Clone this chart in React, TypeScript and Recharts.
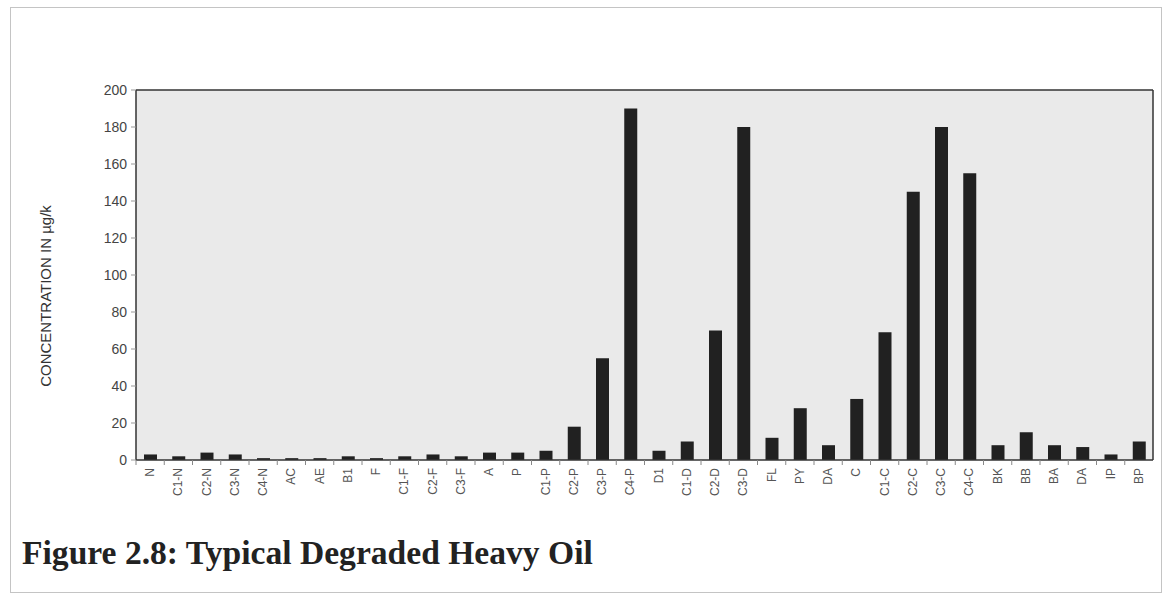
import { BarChart, Bar, XAxis, YAxis, CartesianGrid } from 'recharts';

// Compound labels and concentrations (µg/k).
const compounds = [
  'N', 'C1-N', 'C2-N', 'C3-N', 'C4-N', 'AC', 'AE', 'B1', 'F', 'C1-F', 'C2-F', 'C3-F',
  'A', 'P', 'C1-P', 'C2-P', 'C3-P', 'C4-P', 'D1', 'C1-D', 'C2-D', 'C3-D', 'FL', 'PY',
  'DA', 'C', 'C1-C', 'C2-C', 'C3-C', 'C4-C', 'BK', 'BB', 'BA', 'DA', 'IP', 'BP',
];
const concentrations = [
  3, 2, 4, 3, 1, 1, 1, 2, 1, 2, 3, 2,
  4, 4, 5, 18, 55, 190, 5, 10, 70, 180, 12, 28,
  8, 33, 69, 145, 180, 155, 8, 15, 8, 7, 3, 10,
];
const yTicks = [0, 20, 40, 60, 80, 100, 120, 140, 160, 180, 200];

const data = compounds.map((name, i) => ({ name, value: concentrations[i] }));

const W = 1163;
const H = 595;
const PLOT_LEFT = 136;
const PLOT_RIGHT = 1153;
const BAND = (PLOT_RIGHT - PLOT_LEFT) / compounds.length;
const SANS = 'Liberation Sans, Arial, sans-serif';

// Rotated category label plus a small tick at the left edge of each band.
function CompoundTick(props: any) {
  const { x, y, payload } = props;
  const bx = x - BAND / 2;
  return (
    <g>
      <line x1={bx} y1={y} x2={bx} y2={y + 5} stroke="#888" strokeWidth={1} />
      <text
        x={0}
        y={0}
        transform={`translate(${x + 4},${y + 8}) rotate(-90)`}
        textAnchor="end"
        fontSize={12}
        fontFamily={SANS}
        fill="#555"
      >
        {payload.value}
      </text>
    </g>
  );
}

export default function App() {
  return (
    <div style={{ position: 'absolute', left: 0, top: 0, width: W, height: H, background: '#fff' }}>
      <div
        style={{
          position: 'absolute', left: 10, top: 7, width: 1150, height: 584,
          border: '1px solid #c4c4c4',
        }}
      />
      <BarChart
        width={W}
        height={H}
        data={data}
        margin={{ top: 90, right: W - PLOT_RIGHT, bottom: 75, left: 76 }}
        barCategoryGap={0}
      >
        {/* shaded plot area with a dark frame on top and right */}
        <CartesianGrid
          fill="#eaeaea"
          stroke="#333"
          strokeWidth={1.5}
          strokeDasharray=""
          horizontalCoordinatesGenerator={({ offset }: any) => [offset.top]}
          verticalCoordinatesGenerator={({ offset }: any) => [offset.left + offset.width]}
        />
        <XAxis
          dataKey="name"
          interval={0}
          height={60}
          tickSize={0}
          tickMargin={0}
          tick={<CompoundTick />}
          axisLine={{ stroke: '#333', strokeWidth: 1.5 }}
          tickLine={false}
        />
        <YAxis
          domain={[0, 200]}
          ticks={yTicks}
          width={60}
          tickSize={5}
          tickMargin={4}
          tick={{ fill: '#444', fontSize: 14, fontFamily: SANS }}
          tickLine={{ stroke: '#999' }}
          axisLine={{ stroke: '#333', strokeWidth: 1.5 }}
        />
        <Bar dataKey="value" fill="#212121" barSize={13} isAnimationActive={false} />
      </BarChart>
      <div
        style={{
          position: 'absolute', left: 45, top: 296, transform: 'translate(-50%, -50%) rotate(-90deg)',
          whiteSpace: 'nowrap', fontFamily: SANS, fontSize: 15, color: '#333',
        }}
      >
        CONCENTRATION IN µg/k
      </div>
      <div
        style={{
          position: 'absolute', left: 22, top: 535, whiteSpace: 'nowrap',
          fontFamily: '"Liberation Serif", "Times New Roman", serif', fontWeight: 'bold',
          fontSize: 33.6, lineHeight: '36px', color: '#222',
        }}
      >
        Figure 2.8: Typical Degraded Heavy Oil
      </div>
    </div>
  );
}
